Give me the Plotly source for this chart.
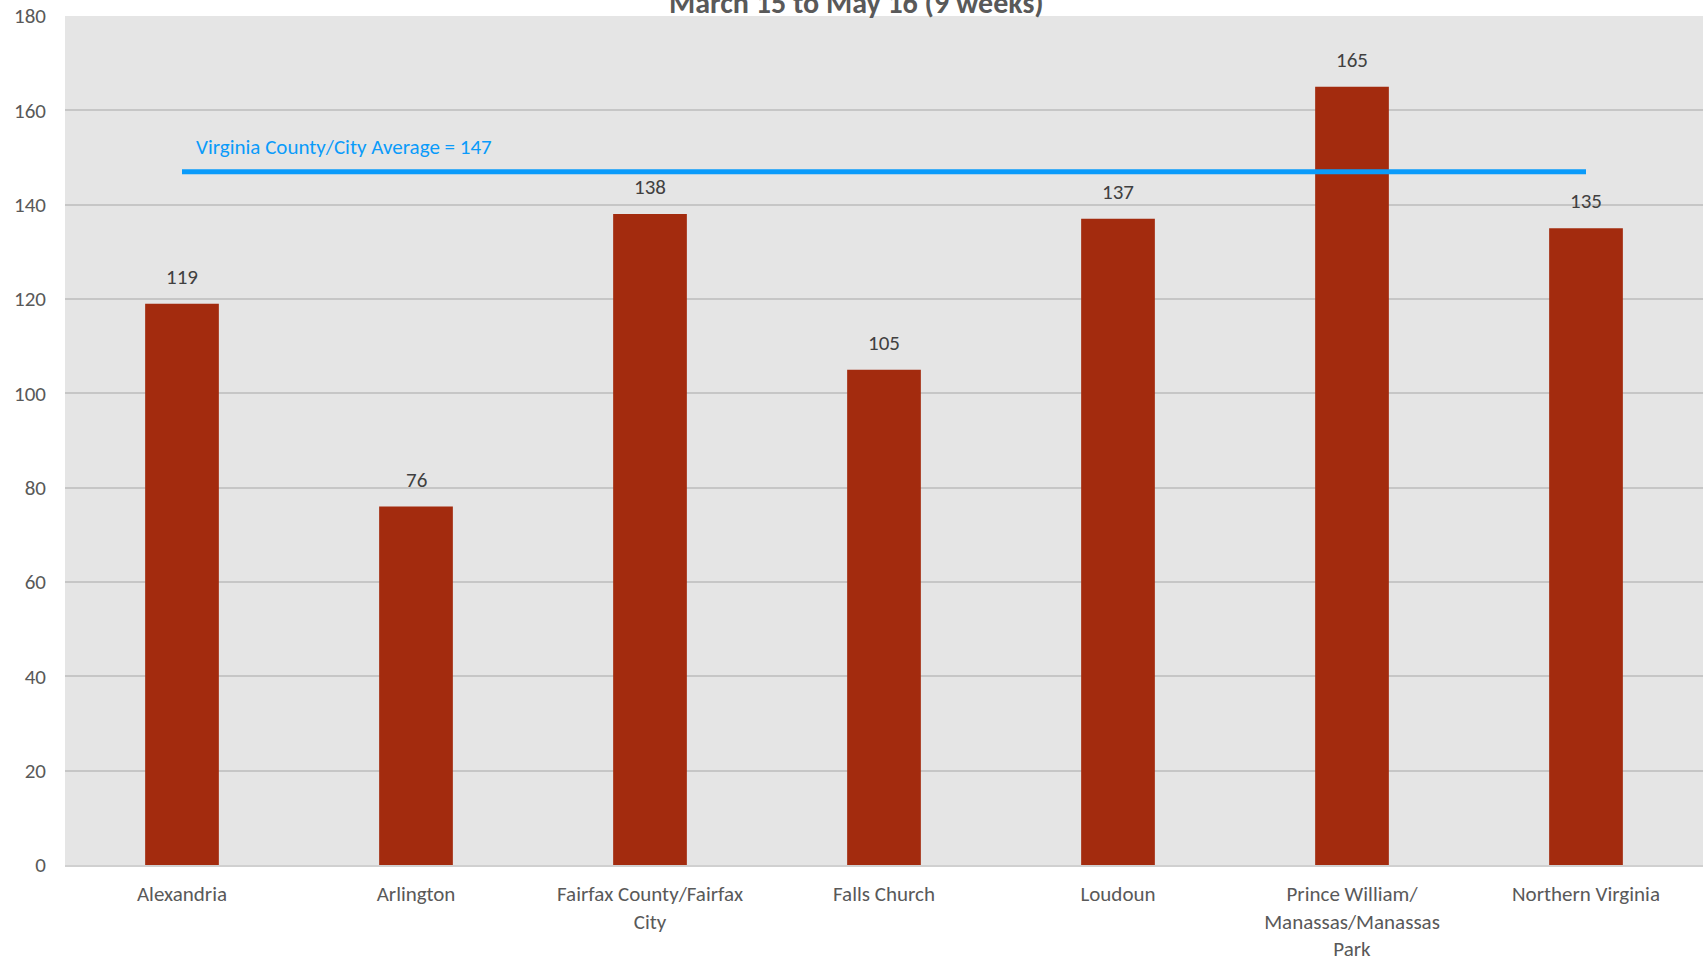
import plotly.graph_objects as go

# Bar chart data
categories = [
    "Alexandria",
    "Arlington",
    "Fairfax County/Fairfax<br>City",
    "Falls Church",
    "Loudoun",
    "Prince William/<br>Manassas/Manassas<br>Park",
    "Northern Virginia",
]
values = [119, 76, 138, 105, 137, 165, 135]
average_value = 147
average_label = "Virginia County/City Average = 147"
title_text = "March 15 to May 16 (9 weeks)"
y_ticks = [0, 20, 40, 60, 80, 100, 120, 140, 160, 180]

FONT = "Carlito, Lato, Liberation Sans, sans-serif"
BAR_COLOR = "#A32B0E"
LINE_COLOR = "#0A9BFA"

fig = go.Figure()

fig.add_trace(go.Bar(
    x=categories,
    y=values,
    marker=dict(color=BAR_COLOR, line=dict(width=0)),
    width=0.315,
    hoverinfo="x+y",
    showlegend=False,
))

# Regional average drawn across the first to last category
fig.add_trace(go.Scatter(
    x=[categories[0], categories[-1]],
    y=[average_value, average_value],
    mode="lines",
    line=dict(color=LINE_COLOR, width=5),
    hoverinfo="skip",
    showlegend=False,
))

annotations = []
for cat, val in zip(categories, values):
    annotations.append(dict(
        x=cat, y=val, xref="x", yref="y",
        text=str(val), showarrow=False,
        yanchor="bottom", yshift=12,
        font=dict(family=FONT, size=21, color="#404040"),
    ))

annotations.append(dict(
    x=categories[0], y=average_value, xref="x", yref="y",
    text=average_label, showarrow=False,
    xanchor="left", yanchor="bottom", xshift=12, yshift=10,
    font=dict(family=FONT, size=21, color=LINE_COLOR),
))

annotations.append(dict(
    x=0.4835, y=1, xref="paper", yref="paper",
    text="<b>" + title_text + "</b>", showarrow=False,
    xanchor="center", yanchor="middle", yshift=14,
    font=dict(family=FONT, size=30, color="#595959"),
))

fig.update_layout(
    width=1703,
    height=960,
    margin=dict(l=65, r=0, t=16, b=95),
    paper_bgcolor="white",
    plot_bgcolor="#E5E5E5",
    bargap=0.685,
    annotations=annotations,
    font=dict(family=FONT, size=21, color="#595959"),
)

fig.update_xaxes(
    automargin=False,
    showgrid=False,
    showline=True,
    linecolor="#D0D0D0",
    linewidth=2,
    ticks="",
    ticklabelstandoff=9,
    tickfont=dict(family=FONT, size=21, color="#595959"),
)

fig.update_yaxes(
    automargin=False,
    range=[0, 180],
    tickvals=y_ticks,
    showgrid=True,
    gridcolor="#C6C6C6",
    gridwidth=1.5,
    zeroline=False,
    showline=False,
    ticks="",
    ticklabelstandoff=18,
    tickfont=dict(family=FONT, size=21, color="#595959"),
)

fig.write_html("out.html")
